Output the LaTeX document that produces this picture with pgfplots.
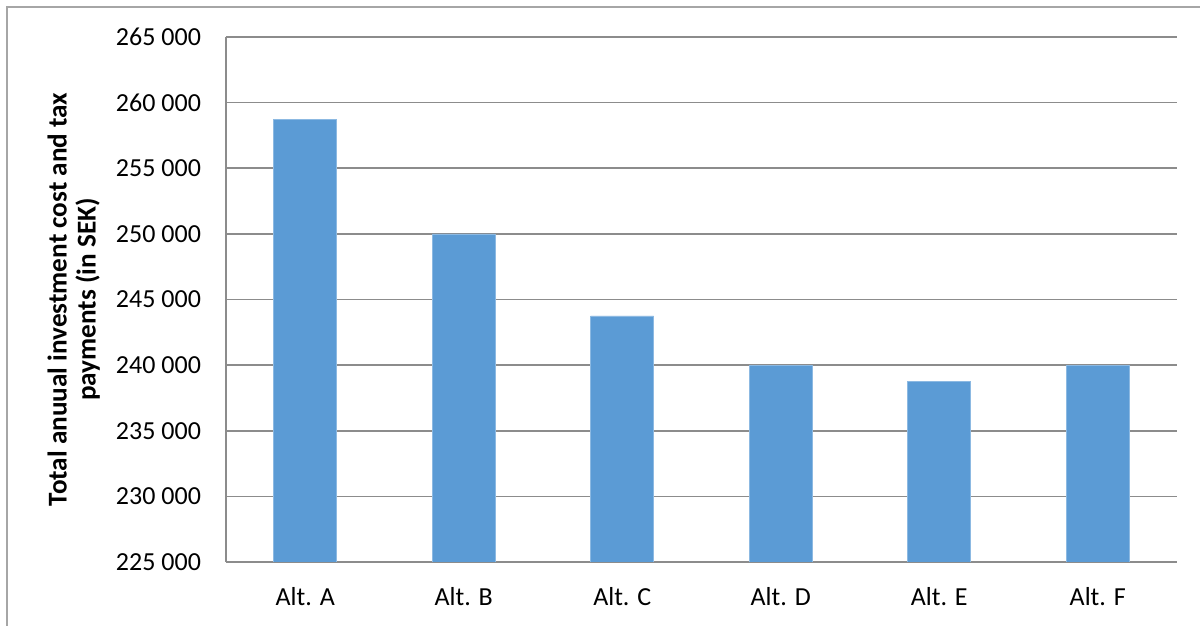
\documentclass[border=0pt]{standalone}
\usepackage{fontspec}
\setmainfont{Carlito}
\usepackage{pgfplots}
\pgfplotsset{compat=1.18}
\definecolor{barblue}{HTML}{5B9BD5}
\definecolor{gridgray}{HTML}{8C8C8C}
\definecolor{framegray}{HTML}{A6A6A6}
\begin{document}
\begin{tikzpicture}
% 1 px of the reference = 0.5pt
\begin{axis}[
    name=ax,
    scale only axis,
    width=475.5pt, height=262.5pt,
    font=\fontsize{13}{15.6}\selectfont,
    /pgf/number format/.cd, fixed, assume math mode=true, 1000 sep={\ },
    /pgfplots/.cd,
    ybar, bar width=31.5pt,
    ymin=225000, ymax=265000,
    ytick={225000,230000,...,265000},
    scaled y ticks=false,
    xmin=-0.5, xmax=5.5,
    xtick=data,
    xticklabels={Alt. A,Alt. B,Alt. C,Alt. D,Alt. E,Alt. F},
    axis x line=bottom, axis y line=left,
    axis line style={gridgray, line width=0.8pt, -},
    major tick length=0pt,
    tick style={draw=none},
    ymajorgrids,
    grid style={gridgray, line width=0.8pt},
    yticklabel style={xshift=-9pt},
    xticklabel style={yshift=-9pt},
    ylabel={Total anuual investment cost and tax\\payments (in SEK)},
    ylabel style={at={(axis description cs:-0.16,0.5)}, anchor=center, align=center, font=\fontsize{13.6}{14.5}\selectfont\bfseries},
]
\addplot[fill=barblue, draw=barblue!70!white, line width=0.3pt] coordinates {
    (0, 258750)
    (1, 250000)
    (2, 243750)
    (3, 240000)
    (4, 238750)
    (5, 240000)
};
\end{axis}
\path (ax.south west) ++(-113pt,-32pt) coordinate (bl);
\draw[framegray, line width=1pt] (bl) ++(3.5pt,0) -- ++(0,309.5pt) -- ++(610pt,0);
\pgfresetboundingbox
\useasboundingbox (bl) rectangle ++(600pt,313pt);
\end{tikzpicture}
\end{document}
